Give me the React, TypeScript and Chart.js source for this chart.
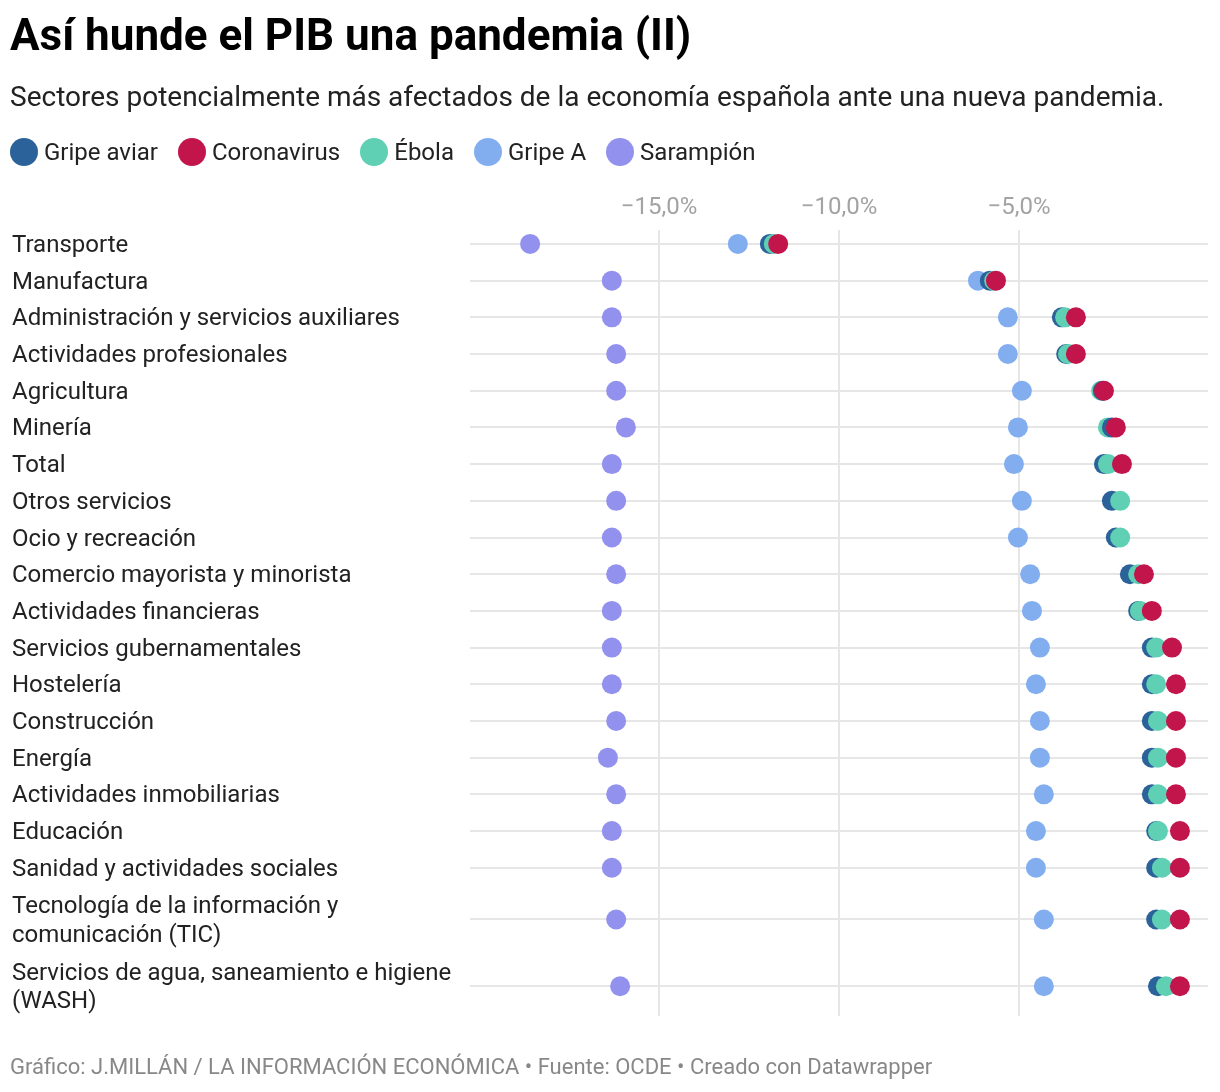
import { useEffect, useRef } from 'react';
import { Chart, registerables } from 'chart.js';

Chart.register(...registerables);

const FONT = "Roboto, sans-serif";

const categories: (string | string[])[] = [
  'Transporte',
  'Manufactura',
  'Administración y servicios auxiliares',
  'Actividades profesionales',
  'Agricultura',
  'Minería',
  'Total',
  'Otros servicios',
  'Ocio y recreación',
  'Comercio mayorista y minorista',
  'Actividades financieras',
  'Servicios gubernamentales',
  'Hostelería',
  'Construcción',
  'Energía',
  'Actividades inmobiliarias',
  'Educación',
  'Sanidad y actividades sociales',
  ['Tecnología de la información y', 'comunicación (TIC)'],
  ['Servicios de agua, saneamiento e higiene', '(WASH)'],
];

const seriesNames = ['Gripe aviar', 'Coronavirus', 'Ébola', 'Gripe A', 'Sarampión'];
const seriesColors = ['#2a6299', '#c2154c', '#5fd0b3', '#82aef0', '#9292ee'];

const gripeAviar = [-11.92, -5.81, -3.81, -3.69, -2.67, -2.42, -2.64, -2.42, -2.31, -1.92, -1.69, -1.31, -1.31, -1.31, -1.31, -1.31, -1.19, -1.19, -1.19, -1.14];
const coronavirus = [-11.69, -5.64, -3.42, -3.42, -2.64, -2.31, -2.14, null, null, -1.53, -1.31, -0.75, -0.64, -0.64, -0.64, -0.64, -0.53, -0.53, -0.53, -0.53];
const ebola = [-11.81, -5.69, -3.72, -3.64, -2.72, -2.53, -2.53, -2.19, -2.19, -1.69, -1.64, -1.19, -1.19, -1.14, -1.14, -1.14, -1.14, -1.03, -1.03, -0.92];
const gripeA = [-12.81, -6.14, -5.31, -5.31, -4.92, -5.03, -5.14, -4.92, -5.03, -4.69, -4.64, -4.42, -4.53, -4.42, -4.42, -4.31, -4.53, -4.53, -4.31, -4.31];
const sarampion = [-18.58, -16.31, -16.31, -16.19, -16.19, -15.92, -16.31, -16.19, -16.31, -16.19, -16.31, -16.31, -16.31, -16.19, -16.42, -16.19, -16.31, -16.31, -16.19, -16.08];

const seriesValues = [gripeAviar, coronavirus, ebola, gripeA, sarampion];
const xTicks = [-15, -10, -5];

// two-line labels make their row taller
const rowCenters: number[] = [];
let rowEdge = -0.5;
for (const label of categories) {
  const span = Array.isArray(label) ? 1.82 : 1;
  rowCenters.push(rowEdge + span / 2);
  rowEdge += span;
}

const formatPercent = (v: number) => `${v < 0 ? '\u2212' : ''}${Math.abs(v).toFixed(1).replace('.', ',')}%`;

// Datawrapper paints the dots of a row from lowest to highest value
const paintByValue = {
  id: 'paintByValue',
  beforeDatasetsDraw(chart: any) {
    const points = chart.data.datasets.flatMap((_: any, i: number) => chart.getDatasetMeta(i).data);
    points.sort((a: any, b: any) => a.x - b.x);
    for (const point of points) point.draw(chart.ctx, chart.chartArea);
    return false;
  },
};

export default function App() {
  const canvasRef = useRef<HTMLCanvasElement>(null);

  useEffect(() => {
    if (!canvasRef.current) return;
    const chart = new Chart(canvasRef.current, {
      type: 'scatter',
      plugins: [paintByValue],
      data: {
        datasets: seriesNames.map((name, s) => ({
          label: name,
          data: seriesValues[s].flatMap((v, i) => (v === null ? [] : [{ x: v, y: rowCenters[i] }])),
          backgroundColor: seriesColors[s],
          borderWidth: 0,
          pointRadius: 10,
        })),
      },
      options: {
        animation: false,
        responsive: false,
        events: [],
        layout: { padding: { top: 190, left: 12, right: 12, bottom: 76 } },
        plugins: { legend: { display: false }, tooltip: { enabled: false } },
        scales: {
          x: {
            position: 'top',
            min: -20.25,
            max: 0.25,
            afterBuildTicks: (scale: any) => {
              scale.ticks = xTicks.map((value) => ({ value }));
            },
            afterFit: (scale: any) => {
              scale.height = 40;
            },
            border: { display: false },
            grid: { color: '#e6e6e6', lineWidth: 2, drawTicks: false },
            ticks: {
              color: '#a3a3a3',
              font: { family: FONT, size: 24 },
              padding: 8,
              maxRotation: 0,
              callback: (v: any) => formatPercent(Number(v)),
            },
          },
          y: {
            reverse: true,
            min: -0.38,
            max: 21.04,
            afterBuildTicks: (scale: any) => {
              scale.ticks = rowCenters.map((value) => ({ value }));
            },
            afterFit: (scale: any) => {
              scale.width = 458;
              scale.paddingTop = 0;
              scale.paddingBottom = 0;
            },
            // the labels sit a pixel high on a middle baseline, nudge them down
            afterUpdate: (scale: any) => {
              const drawLabels = scale.drawLabels;
              scale.drawLabels = function (area: any) {
                scale.ctx.save();
                scale.ctx.translate(0, 1);
                drawLabels.call(scale, area);
                scale.ctx.restore();
              };
            },
            border: { display: false },
            grid: { color: '#e6e6e6', lineWidth: 2, drawTicks: false },
            ticks: {
              color: '#222222',
              crossAlign: 'far',
              autoSkip: false,
              padding: 0,
              font: { family: FONT, size: 24, lineHeight: 1.17 },
              callback: (_v: any, i: number) => categories[i],
            },
          },
        },
      },
    } as any);
    return () => chart.destroy();
  }, []);

  return (
    <div style={{ position: 'absolute', left: 0, top: 0, width: 1220, height: 1092, background: '#fff', fontFamily: FONT, overflow: 'hidden' }}>
      <canvas ref={canvasRef} width={1220} height={1092} style={{ position: 'absolute', left: 0, top: 0 }} />
      <div style={{ position: 'absolute', left: 10, top: 10, fontSize: 44, fontWeight: 700, lineHeight: '50px', color: '#000', whiteSpace: 'nowrap' }}>
        Así hunde el PIB una pandemia (II)
      </div>
      <div style={{ position: 'absolute', left: 10, top: 79, fontSize: 28, lineHeight: '36px', color: '#222', whiteSpace: 'nowrap' }}>
        Sectores potencialmente más afectados de la economía española ante una nueva pandemia.
      </div>
      <div style={{ position: 'absolute', left: 10, top: 136, display: 'flex', gap: 20, whiteSpace: 'nowrap' }}>
        {seriesNames.map((name, s) => (
          <div key={name} style={{ display: 'flex', alignItems: 'center', gap: 6, fontSize: 24, lineHeight: '32px', color: '#222' }}>
            <span style={{ width: 28, height: 28, borderRadius: '50%', background: seriesColors[s] }} />
            {name}
          </div>
        ))}
      </div>
      <div style={{ position: 'absolute', left: 10, top: 1052, fontSize: 22, lineHeight: '30px', color: '#888', whiteSpace: 'nowrap' }}>
        Gráfico: J.MILLÁN / LA INFORMACIÓN ECONÓMICA • Fuente: OCDE • Creado con Datawrapper
      </div>
    </div>
  );
}
